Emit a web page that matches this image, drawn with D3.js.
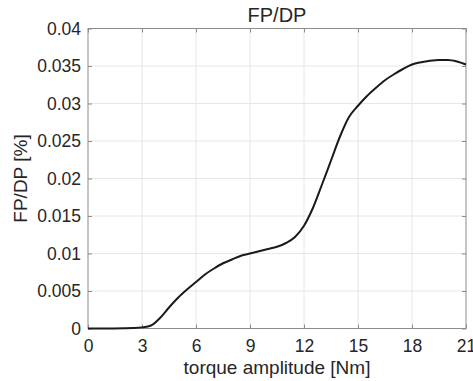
<!DOCTYPE html>
<html>
<head>
<meta charset="utf-8">
<script src="https://cdn.jsdelivr.net/npm/d3@7/dist/d3.min.js"></script>
<style>
  html, body { margin: 0; padding: 0; background: #fff; }
  text { font-family: "Liberation Sans", Arial, Helvetica, sans-serif; fill: #262626; }
</style>
</head>
<body>
<div id="chart"></div>
<script>
// torque amplitude [Nm]
const torque = [0, 1, 2, 2.5, 3, 3.5, 4, 4.5, 5, 5.5, 6, 6.5, 7, 7.5, 8, 8.5, 9, 9.5, 10, 10.5,
  11, 11.5, 12, 12.5, 13, 13.5, 14, 14.5, 15, 15.5, 16, 16.5, 17, 17.5, 18, 18.5, 19, 19.5, 20, 20.5, 21];
// FP/DP [%]
const fpdp = [0, 0, 0.00003, 0.00006, 0.00015, 0.0004, 0.0014, 0.0028, 0.0041, 0.0052, 0.0062, 0.0072,
  0.0080, 0.0087, 0.0092, 0.0097, 0.0100, 0.0103, 0.0106, 0.0109, 0.0114, 0.0122, 0.0137, 0.0161,
  0.0192, 0.0224, 0.0256, 0.0282, 0.0297, 0.0310, 0.0321, 0.0331, 0.0339, 0.0346, 0.0352, 0.0355,
  0.0357, 0.0358, 0.0358, 0.0356, 0.0352];
const xTicks = [0, 3, 6, 9, 12, 15, 18, 21];
const yTicks = [0, 0.005, 0.01, 0.015, 0.02, 0.025, 0.03, 0.035, 0.04];

const W = 473, H = 381;
const margin = { top: 28.5, right: 7, bottom: 52.5, left: 88 };
const width = W - margin.left - margin.right;
const height = H - margin.top - margin.bottom;

const svg = d3.select('#chart').append('svg')
  .attr('width', W).attr('height', H);
const g = svg.append('g')
  .attr('transform', `translate(${margin.left},${margin.top})`);

const x = d3.scaleLinear().domain([0, 21]).range([0, width]);
const y = d3.scaleLinear().domain([0, 0.04]).range([height, 0]);

// grid
g.append('g').selectAll('line').data(xTicks.slice(1, -1)).enter().append('line')
  .attr('x1', d => x(d)).attr('x2', d => x(d)).attr('y1', 0).attr('y2', height)
  .attr('stroke', '#e6e6e6').attr('stroke-width', 1);
g.append('g').selectAll('line').data(yTicks.slice(1, -1)).enter().append('line')
  .attr('x1', 0).attr('x2', width).attr('y1', d => y(d)).attr('y2', d => y(d))
  .attr('stroke', '#e6e6e6').attr('stroke-width', 1);

// box
g.append('rect').attr('x', 0).attr('y', 0).attr('width', width).attr('height', height)
  .attr('fill', 'none').attr('stroke', '#8c8c8c').attr('stroke-width', 1);

// axes
const fmtY = d => d === 0 ? '0' : String(+d.toFixed(3));
const xAxis = g.append('g').attr('transform', `translate(0,${height})`)
  .call(d3.axisBottom(x).tickValues(xTicks).tickSize(-4).tickPadding(11).tickFormat(d3.format('d')));
const xTop = g.append('g')
  .call(d3.axisTop(x).tickValues(xTicks).tickSize(-4).tickFormat(''));
const yAxis = g.append('g')
  .call(d3.axisLeft(y).tickValues(yTicks).tickSize(-4).tickPadding(7).tickFormat(fmtY));
const yRight = g.append('g').attr('transform', `translate(${width},0)`)
  .call(d3.axisRight(y).tickValues(yTicks).tickSize(-4).tickFormat(''));

[xAxis, xTop, yAxis, yRight].forEach(a => {
  a.select('.domain').remove();
  a.selectAll('.tick line').attr('stroke', '#8c8c8c');
  a.selectAll('.tick text').style('font-size', '17.5px').attr('fill', '#262626');
});

// curve
g.append('path')
  .datum(torque.map((t, i) => [t, fpdp[i]]))
  .attr('fill', 'none')
  .attr('stroke', '#1a1a1a')
  .attr('stroke-width', 2)
  .attr('d', d3.line().x(d => x(d[0])).y(d => y(d[1])).curve(d3.curveMonotoneX));

// labels
svg.append('text').attr('x', margin.left + width / 2).attr('y', 21.5)
  .attr('text-anchor', 'middle').style('font-size', '20px').text('FP/DP');
svg.append('text').attr('x', margin.left + width / 2).attr('y', 374)
  .attr('text-anchor', 'middle').style('font-size', '19px').text('torque amplitude [Nm]');
svg.append('text')
  .attr('transform', `translate(27,${margin.top + height / 2}) rotate(-90)`)
  .attr('text-anchor', 'middle').style('font-size', '19px').text('FP/DP [%]');
</script>
</body>
</html>
